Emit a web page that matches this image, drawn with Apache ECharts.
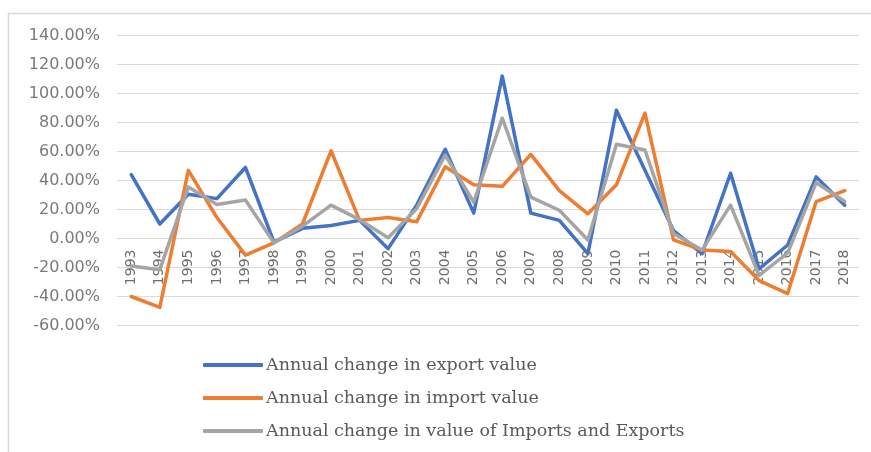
<!DOCTYPE html>
<html>
<head>
<meta charset="utf-8">
<script src="https://cdn.jsdelivr.net/npm/echarts@6/dist/echarts.min.js"></script>
<style>html,body{margin:0;padding:0;background:#fff}#c{width:871px;height:452px}</style>
</head>
<body>
<div id="c"></div>
<script>
const years = ['1993','1994','1995','1996','1997','1998','1999','2000','2001','2002','2003','2004','2005','2006','2007','2008','2009','2010','2011','2012','2013','2014','2015','2016','2017','2018'];
const exportChange = [44, 10, 30.5, 27.5, 49, -2.5, 7, 9, 12.5, -7, 23, 61.5, 17.5, 112, 17.5, 12.5, -10.5, 88.5, 47, 5.5, -10.5, 45, -21, -4.5, 42.5, 23];
const importChange = [-40, -47.5, 47, 14.5, -11.5, -3, 10, 60.5, 12.5, 14.5, 11.5, 49.5, 37, 36, 58, 33, 17, 37, 86.5, -1, -8, -9, -29, -38, 25.5, 33];
const totalChange = [-19, -21.5, 35.5, 23.5, 26.5, -3, 8.5, 23, 13, 0.5, 20.5, 57.5, 25, 83, 28.5, 19.5, -1, 65, 61, 3.5, -8, 23, -25.5, -10, 38.5, 25.5];
const seriesNames = ['Annual change in export value','Annual change in import value','Annual change in value of Imports and Exports'];
const colors = ['#4472C4','#ED7D31','#A5A5A5'];
const yMin = -60, yMax = 140;

const W = 871, H = 452;
const gridTop = 35.5, gridBottom = 126.5;
const gridH = H - gridTop - gridBottom;
// place the category axis (and its labels) at the zero line
const zeroOffset = -((0 - yMin) / (yMax - yMin)) * gridH;

const chart = echarts.init(document.getElementById('c'));
const mk = (name, data, color) => ({
  name, type: 'line', data, symbol: 'none', smooth: false,
  lineStyle: {color, width: 3.5, cap: 'round', join: 'round'},
  itemStyle: {color}
});
chart.setOption({
  animation: false,
  color: colors,
  grid: {left: 117, right: 12, top: gridTop, bottom: gridBottom},
  xAxis: {
    type: 'category', data: years, boundaryGap: true,
    offset: zeroOffset,
    axisLine: {show: false, onZero: false},
    axisTick: {show: false},
    axisLabel: {rotate: 90, interval: 0, margin: 11, color: '#6e6e6e', fontFamily: 'DejaVu Sans', fontSize: 14}
  },
  yAxis: {
    type: 'value', min: yMin, max: yMax, interval: 20,
    axisLine: {show: false}, axisTick: {show: false},
    splitLine: {lineStyle: {color: '#d9d9d9', width: 1}},
    axisLabel: {margin: 17, color: '#7a7a7a', fontFamily: 'DejaVu Sans', fontSize: 16,
      formatter: v => v.toFixed(2) + '%'}
  },
  legend: {
    orient: 'vertical', left: 203, top: 356, padding: 0,
    itemWidth: 60, itemHeight: 4, itemGap: 15,
    icon: 'roundRect',
    textStyle: {fontFamily: 'DejaVu Serif', fontSize: 17.5, color: '#595959', padding: [0,0,0,-2]},
    data: seriesNames
  },
  graphic: [{
    type: 'polyline', silent: true,
    shape: {points: [[8.5, 452], [8.5, 13.5], [871, 13.5]]},
    style: {stroke: '#d9d9d9', lineWidth: 1.5, fill: null}
  }],
  series: [
    mk(seriesNames[0], exportChange, colors[0]),
    mk(seriesNames[1], importChange, colors[1]),
    mk(seriesNames[2], totalChange, colors[2])
  ]
});
</script>
</body>
</html>
